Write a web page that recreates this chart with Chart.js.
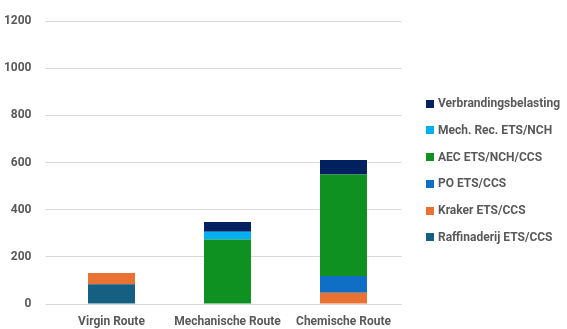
<!DOCTYPE html>
<html>
<head>
<meta charset="utf-8">
<script src="https://cdn.jsdelivr.net/npm/chart.js@4/dist/chart.umd.min.js"></script>
<style>
  html, body { margin: 0; padding: 0; background: #fff; }
  #wrap { width: 567px; height: 329px; position: relative; }
  #legend {
    position: absolute; left: 426px; top: 90px;
    margin: 0; padding: 0; list-style: none;
    font: bold 12px Roboto, sans-serif; color: #595959;
  }
  #legend li { height: 26.8px; line-height: 26.8px; white-space: nowrap; }
  #legend span.box {
    display: inline-block; width: 8px; height: 8px;
    margin-right: 4px; vertical-align: -0.5px;
  }
</style>
</head>
<body>
<div id="wrap">
  <canvas id="myChart"></canvas>
  <ul id="legend"></ul>
</div>
<script>
'use strict'

var routes = ['Virgin Route', 'Mechanische Route', 'Chemische Route'];

// stacked from the bottom up
var raffinaderij = [84, 0, 0];
var kraker       = [48, 0, 48];
var po           = [0, 0, 71];
var aec          = [0, 274, 431];
var mechRec      = [0, 33, 0];
var verbranding  = [0, 41, 61];

var yTicks = [0, 200, 400, 600, 800, 1000, 1200];

var grey = '#595959';
var tickFont = { family: 'Roboto', size: 12, weight: 'bold' };

var ctx = document.getElementById('myChart').getContext('2d');

function series(label, data, color) {
    return {
        label: label,
        data: data,
        backgroundColor: color,
        borderWidth: 0,
        categoryPercentage: 1,
        barPercentage: 0.405
    };
}

var graphData = {
    type: 'bar',
    data: {
        labels: routes,
        datasets: [
            series('Raffinaderij ETS/CCS', raffinaderij, '#156082'),
            series('Kraker ETS/CCS', kraker, '#E97132'),
            series('PO ETS/CCS', po, '#0F6FC6'),
            series('AEC ETS/NCH/CCS', aec, '#0F9121'),
            series('Mech. Rec. ETS/NCH', mechRec, '#00B0F0'),
            series('Verbrandingsbelasting', verbranding, '#002060')
        ]
    },
    options: {
        responsive: true,
        maintainAspectRatio: false,
        animation: false,
        layout: { padding: { top: 11, left: 0, right: 165.5, bottom: 0 } },
        plugins: {
            tooltip: { enabled: false },
            legend: { display: false }
        },
        scales: {
            x: {
                stacked: true,
                grid: { display: false },
                border: { display: false },
                ticks: { color: grey, font: tickFont, padding: 3 },
                afterFit: function(scale) { scale.height = 25; }
            },
            y: {
                stacked: true,
                min: 0,
                max: 1200,
                afterBuildTicks: function(axis) {
                    axis.ticks = yTicks.map(function(v) { return { value: v }; });
                },
                grid: { color: '#D9D9D9', lineWidth: 1 },
                border: { display: false },
                ticks: {
                    color: grey, font: tickFont, padding: 14,
                    callback: function(v) { return String(v); }
                },
                afterFit: function(scale) { scale.width = 53.5; }
            }
        }
    }
};

var myChart = new Chart(ctx, graphData);

/* html legend, top entry is the top of the stack */
var legendEl = document.getElementById('legend');
var items = Chart.defaults.plugins.legend.labels.generateLabels(myChart).reverse();
items.forEach(function(item) {
    var li = document.createElement('li');
    var box = document.createElement('span');
    box.className = 'box';
    box.style.background = item.fillStyle;
    li.appendChild(box);
    li.appendChild(document.createTextNode(item.text));
    legendEl.appendChild(li);
});
</script>
</body>
</html>
